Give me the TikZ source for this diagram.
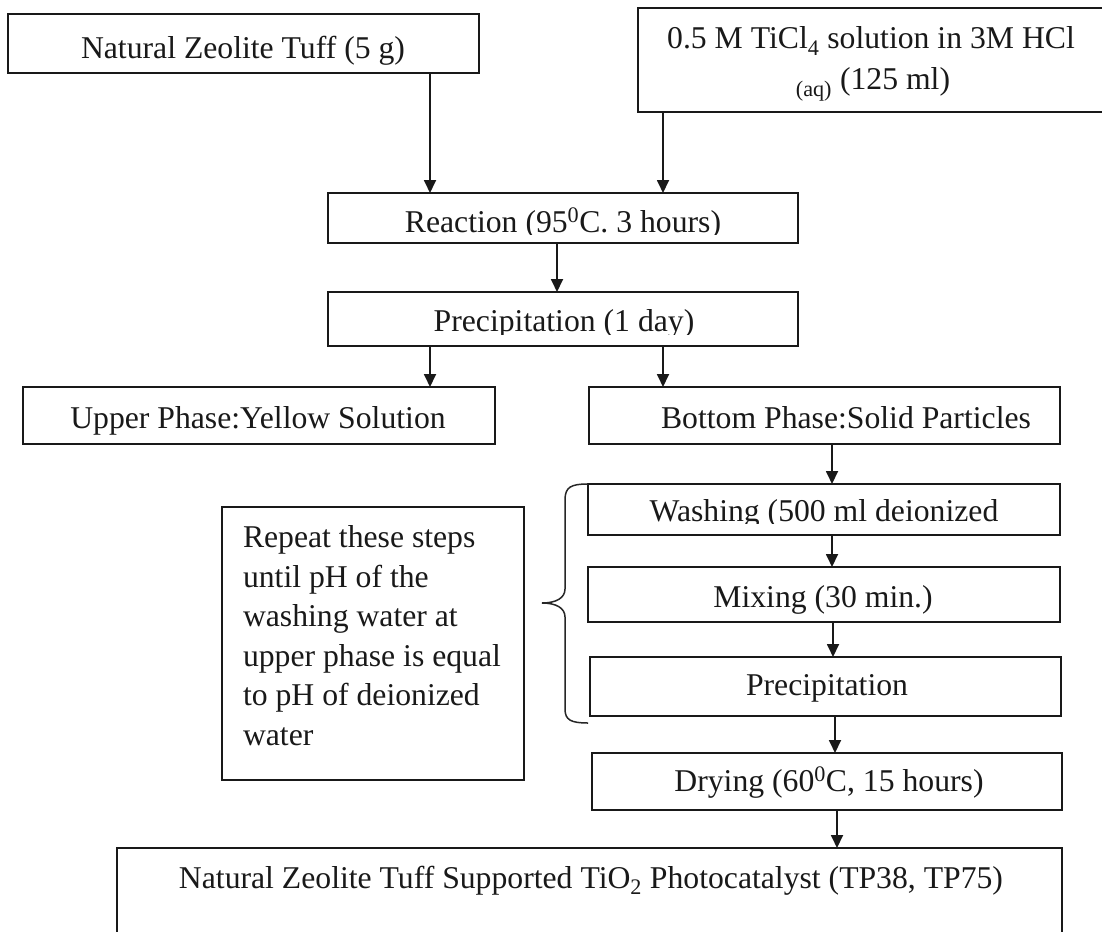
\documentclass[tikz,border=0pt]{standalone}
\usepackage{fontspec}
\setmainfont{Liberation Serif}
\usetikzlibrary{arrows.meta}
\tikzset{
  box/.style={draw=black!90, line width=1.9pt, inner sep=0pt, outer sep=0pt, anchor=north west},
  lbl/.style={anchor=base, inner sep=0pt, outer sep=0pt, text=black!90},
  flow/.style={line width=1.8pt, draw=black!90, -{Triangle[length=13pt,width=12pt]}},
  brace/.style={line width=1.5pt, draw=black!85},
}
\begin{document}
\begin{tikzpicture}[x=1pt, y=-1pt, font=\fontsize{31.7}{39.6}\selectfont]
\useasboundingbox (0,0) rectangle (1102,931);
\clip (0,0) rectangle (1102,931);
\fill[white] (0,0) rectangle (1102,931);

% process boxes
\node[box, minimum width=471pt, minimum height=59pt]  (nat)    at (8,14)   {};
\node[box, minimum width=470pt, minimum height=104pt] (ticl)   at (638,8)  {};
\node[box, minimum width=470pt, minimum height=50pt]  (react)  at (328,193) {};
\node[box, minimum width=470pt, minimum height=54pt]  (prec)   at (328,292) {};
\node[box, minimum width=472pt, minimum height=57pt]  (upper)  at (23,387)  {};
\node[box, minimum width=471pt, minimum height=57pt]  (bottom) at (589,387) {};
\node[box, minimum width=472pt, minimum height=51pt]  (wash)   at (588,484) {};
\node[box, minimum width=472pt, minimum height=55pt]  (mix)    at (588,567) {};
\node[box, minimum width=471pt, minimum height=59pt]  (prec2)  at (590,657) {};
\node[box, minimum width=470pt, minimum height=57pt]  (dry)    at (592,753) {};
\node[box, minimum width=945pt, minimum height=120pt] (final)  at (117,848) {};
\node[box, minimum width=302pt, minimum height=273pt] (repeat) at (222,507) {};

% arrow columns
\coordinate (cA) at (430,0);
\coordinate (cB) at (663,0);
\coordinate (cC) at (557,0);
\coordinate (cD) at (832,0);
\coordinate (cE) at (833,0);
\coordinate (cF) at (835,0);
\coordinate (cG) at (837,0);

\draw[flow] (nat.south -| cA)    -- (react.north -| cA);
\draw[flow] (ticl.south -| cB)   -- (react.north -| cB);
\draw[flow] (react.south -| cC)  -- (prec.north -| cC);
\draw[flow] (prec.south -| cA)   -- (upper.north -| cA);
\draw[flow] (prec.south -| cB)   -- (bottom.north -| cB);
\draw[flow] (bottom.south -| cD) -- (wash.north -| cD);
\draw[flow] (wash.south -| cD)   -- (mix.north -| cD);
\draw[flow] (mix.south -| cE)    -- (prec2.north -| cE);
\draw[flow] (prec2.south -| cF)  -- (dry.north -| cF);
\draw[flow] (dry.south -| cG)    -- (final.north -| cG);

% curly brace grouping the washing loop
\draw[brace] (588,484) .. controls (571,484) and (565,487) .. (565,500)
  -- (565,589) .. controls (565,598) and (556,603) .. (542,603)
  .. controls (556,603) and (565,608) .. (565,617)
  -- (565,709) .. controls (565,720) and (571,723) .. (588,723);

% labels
\node[lbl] (t-nat)   at (243,59) {Natural Zeolite Tuff (5 g)};
\node[lbl] (t-ticl1) at (871,49) {0.5 M TiCl\textsubscript{4} solution in 3M HCl};
\node[lbl] (t-ticl2) at (873,90) {\textsubscript{(aq)} (125 ml)};
\begin{scope}
  \clip (328,193) rectangle (798,234);
  \node[lbl] (t-react) at (563,232) {Reaction (95\textsuperscript{0}C. 3 hours)};
\end{scope}
\begin{scope}
  \clip (328,292) rectangle (798,334);
  \node[lbl] (t-prec) at (564,331) {Precipitation (1 day)};
\end{scope}
\node[lbl] (t-upper)  at (258,428) {Upper Phase:Yellow Solution};
\node[lbl] (t-bottom) at (846,428) {Bottom Phase:Solid Particles};
\begin{scope}
  \clip (588,484) rectangle (1060,523);
  \node[lbl] (t-wash) at (824,521) {Washing (500 ml deionized};
\end{scope}
\node[lbl] (t-mix)   at (823,607) {Mixing (30 min.)};
\node[lbl] (t-prec2) at (827,695) {Precipitation};
\node[lbl] (t-dry)   at (829,791) {Drying (60\textsuperscript{0}C, 15 hours)};
\node[lbl] (t-final) at (591,888) {Natural Zeolite Tuff Supported TiO\textsubscript{2} Photocatalyst (TP38, TP75)};

% note beside the brace
\foreach \line [count=\i] in {Repeat these steps, until pH of the, washing water at,
    upper phase is equal, to pH of deionized, water}
  \node[lbl, anchor=base west] (t-rep\i) at (243, 547.5+39.6*\i-39.6) {\line};
\end{tikzpicture}
\end{document}
